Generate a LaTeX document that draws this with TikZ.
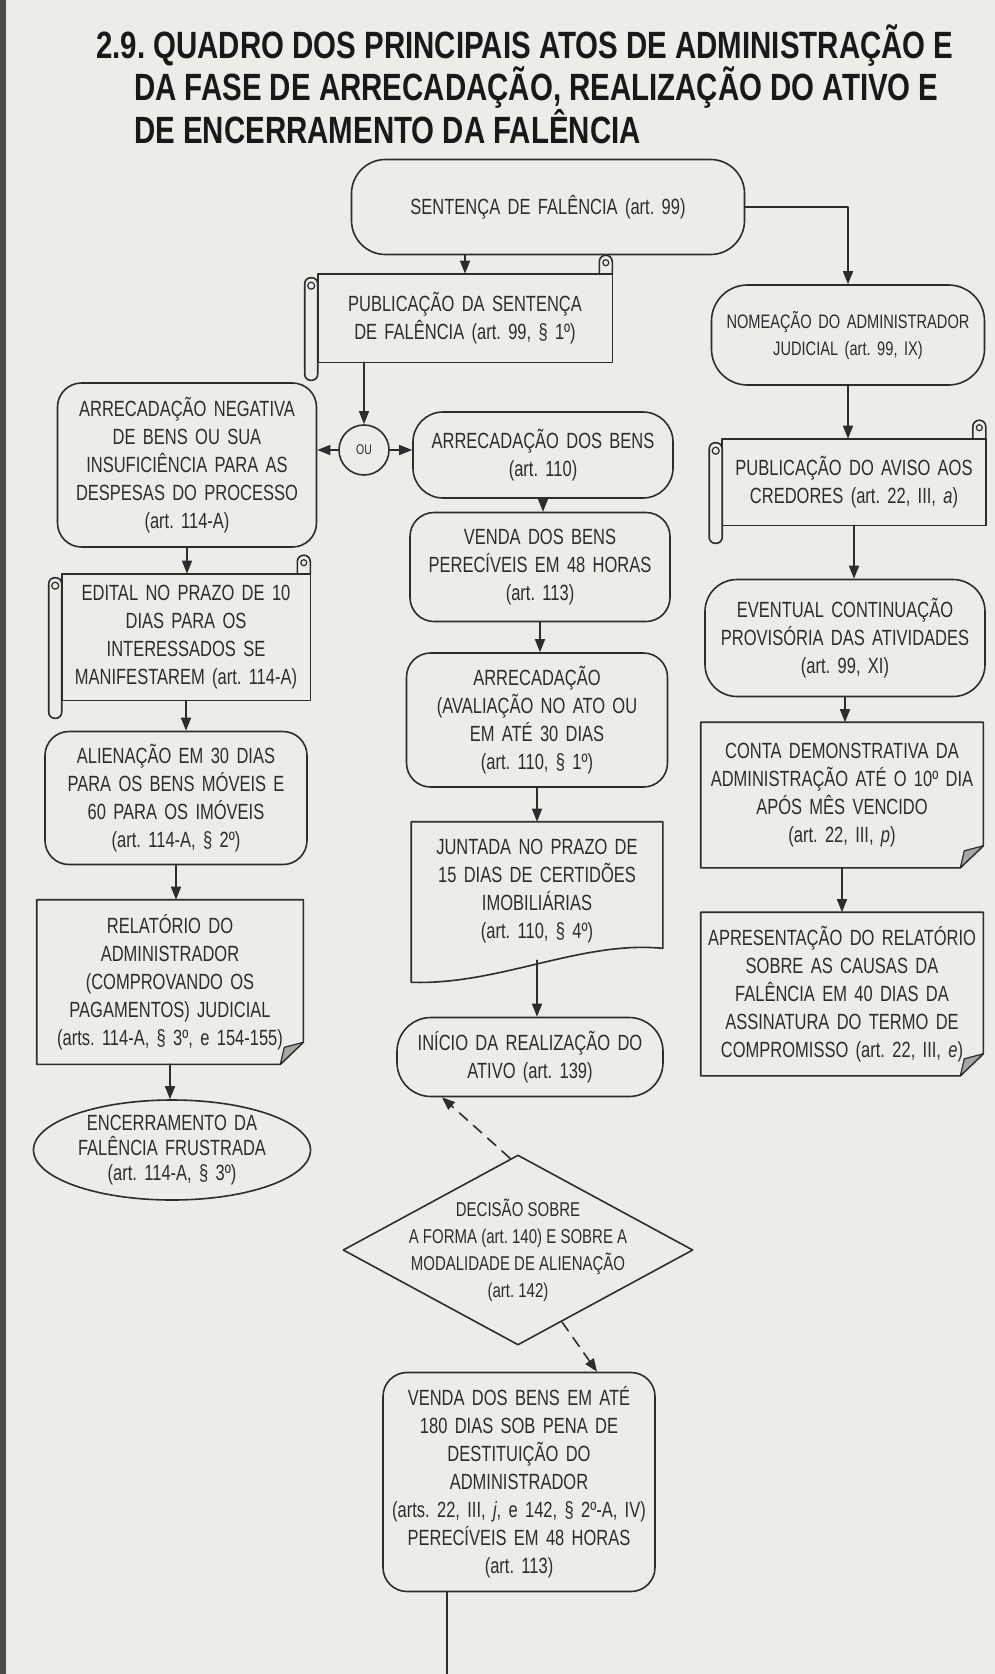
\documentclass[tikz,border=0pt]{standalone}
\usepackage{fontspec}
\setmainfont{Liberation Sans}[FakeStretch=0.75]
\newfontfamily\titulo{Liberation Sans}[FakeStretch=0.775]
\usepackage{tikz}
\usetikzlibrary{arrows.meta}
\usetikzlibrary{shapes.geometric}
\usetikzlibrary{calc}
\definecolor{papel}{RGB}{236,236,233}
\definecolor{tinta}{RGB}{45,45,45}
\frenchspacing

\tikzset{
  caixa/.style={draw=tinta,line width=1.6pt,rounded corners=24pt,align=center,inner sep=0pt,text=tinta,font=\fontsize{22}{28}\selectfont},
  folha/.style={caixa,draw=none},
  tam/.style 2 args={minimum width=#1pt,minimum height=#2pt,text width=#1pt},
  seta/.style={draw=tinta,line width=1.6pt,-{Triangle[length=13pt,width=10pt]}},
  tracejado/.style={seta,dash pattern=on 11pt off 8pt},
}

% folha com canto dobrado
\newcommand{\dobra}[1]{%
  \draw[tinta,line width=1.6pt,line join=round] (#1.north west) -- (#1.north east) -- ($(#1.south east)+(0,-22)$) -- ($(#1.south east)+(-23,0)$) -- (#1.south west) -- cycle;
  \filldraw[draw=tinta,fill=gray!70,line width=1.2pt,line join=round] ($(#1.south east)+(0,-22)$) -- ($(#1.south east)+(-19,-17)$) -- ($(#1.south east)+(-23,0)$) -- cycle;
}
% pergaminho
\newcommand{\rolo}[1]{%
  \draw[tinta,line width=1.6pt] (#1.north west) rectangle (#1.south east);
  \draw[tinta,line width=1.6pt,fill=papel,rounded corners=6pt] ($(#1.north west)+(-13,4)$) rectangle ($(#1.south west)+(0,18)$);
  \draw[tinta,line width=1.2pt] ($(#1.north west)+(-6.5,12)$) circle (3.5pt);
  \draw[tinta,line width=1.6pt] ($(#1.north east)+(-13,0)$) -- ($(#1.north east)+(-13,-12)$) arc[start angle=180,end angle=0,radius=6.5pt] -- (#1.north east);
  \draw[tinta,line width=1.2pt] ($(#1.north east)+(-6.5,-11)$) circle (3pt);
}

\begin{document}
\begin{tikzpicture}[x=1pt,y=-1pt,line cap=round,line join=round]
\useasboundingbox (0,0) rectangle (995,1674);
\fill[papel] (0,0) rectangle (995,1674);
\fill[black!70] (0,0) rectangle (6,1674);

% titulo
\node[anchor=north west,inner sep=0pt,align=left,text=black!90,font=\titulo\bfseries\fontsize{38}{36}\selectfont] (titulo) at (96,24) {2.9. QUADRO DOS PRINCIPAIS ATOS DE ADMINISTRAÇÃO E\\\hspace*{38pt}DA FASE DE ARRECADAÇÃO, REALIZAÇÃO DO ATIVO E\\\hspace*{38pt}DE ENCERRAMENTO DA FALÊNCIA};

% coluna central
\node[caixa,tam={393}{95},rounded corners=34pt] (sent) at (548,207) {SENTENÇA DE FALÊNCIA (art. 99)};
\node[folha,tam={293}{87}] (pub) at (465,318) {PUBLICAÇÃO DA SENTENÇA\\DE FALÊNCIA (art. 99, § 1º)};
\node[circle,draw=tinta,line width=1.6pt,minimum size=50pt,inner sep=0pt,text=tinta,font=\fontsize{14}{14}\selectfont] (ou) at (364,450) {OU};
\node[caixa,tam={260}{86},rounded corners=30pt] (arrec) at (543,455) {ARRECADAÇÃO DOS BENS\\(art. 110)};
\node[caixa,tam={260}{109}] (venda) at (540,567) {VENDA DOS BENS\\PERECÍVEIS EM 48 HORAS\\(art. 113)};
\node[caixa,tam={261}{134}] (aval) at (537,720) {ARRECADAÇÃO\\(AVALIAÇÃO NO ATO OU\\EM ATÉ 30 DIAS\\(art. 110, § 1º)};
\node[folha,tam={250}{137}] (junt) at (537,891) {JUNTADA NO PRAZO DE\\15 DIAS DE CERTIDÕES\\IMOBILIÁRIAS\\(art. 110, § 4º)};
\node[caixa,tam={266}{79},rounded corners=34pt] (inicio) at (530,1057) {INÍCIO DA REALIZAÇÃO DO\\ATIVO (art. 139)};
\node[diamond,draw=tinta,line width=1.6pt,minimum width=350pt,minimum height=190pt,inner sep=0pt] (dec) at (518,1250) {};
\node[align=center,text=tinta,font=\fontsize{20}{27}\selectfont] (dectxt) at (dec.center) {DECISÃO SOBRE\\A FORMA (art. 140) E SOBRE A\\MODALIDADE DE ALIENAÇÃO\\(art. 142)};
\node[caixa,tam={272}{219}] (venda2) at (519,1482) {VENDA DOS BENS EM ATÉ\\180 DIAS SOB PENA DE\\DESTITUIÇÃO DO\\ADMINISTRADOR\\(arts. 22, III, \textit{j}, e 142, § 2º-A, IV)\\PERECÍVEIS EM 48 HORAS\\(art. 113)};
\coordinate (fim) at (447,1674);

% coluna esquerda
\node[caixa,tam={259}{164}] (neg) at (187,465) {ARRECADAÇÃO NEGATIVA\\DE BENS OU SUA\\INSUFICIÊNCIA PARA AS\\DESPESAS DO PROCESSO\\(art. 114-A)};
\node[folha,tam={247}{125}] (edital) at (186,637) {EDITAL NO PRAZO DE 10\\DIAS PARA OS\\INTERESSADOS SE\\MANIFESTAREM (art. 114-A)};
\node[caixa,tam={262}{133}] (alien) at (176,798) {ALIENAÇÃO EM 30 DIAS\\PARA OS BENS MÓVEIS E\\60 PARA OS IMÓVEIS\\(art. 114-A, § 2º)};
\node[folha,tam={265}{163}] (rel) at (170,982) {RELATÓRIO DO\\ADMINISTRADOR\\(COMPROVANDO OS\\PAGAMENTOS) JUDICIAL\\(arts. 114-A, § 3º, e 154-155)};
\node[ellipse,draw=tinta,line width=1.6pt,minimum width=271pt,minimum height=100pt,inner xsep=0pt,inner ysep=-5pt,text width=196pt,align=center,text=tinta,font=\fontsize{22}{25}\selectfont] (enc) at (172,1150) {ENCERRAMENTO DA\\FALÊNCIA FRUSTRADA\\(art. 114-A, § 3º)};

% coluna direita
\node[caixa,tam={273}{100},rounded corners=36pt,font=\fontsize{19.5}{27}\selectfont] (nom) at (848,335) {NOMEAÇÃO DO ADMINISTRADOR\\JUDICIAL (art. 99, IX)};
\node[folha,tam={262}{85}] (aviso) at (854,482) {PUBLICAÇÃO DO AVISO AOS\\CREDORES (art. 22, III, \textit{a})};
\node[caixa,tam={280}{117},rounded corners=32pt] (event) at (845,638) {EVENTUAL CONTINUAÇÃO\\PROVISÓRIA DAS ATIVIDADES\\(art. 99, XI)};
\node[folha,tam={281}{144}] (conta) at (842,795) {CONTA DEMONSTRATIVA DA\\ADMINISTRAÇÃO ATÉ O 10º DIA\\APÓS MÊS VENCIDO\\(art. 22, III, \textit{p})};
\node[folha,tam={281}{162}] (apres) at (842,994) {APRESENTAÇÃO DO RELATÓRIO\\SOBRE AS CAUSAS DA\\FALÊNCIA EM 40 DIAS DA\\ASSINATURA DO TERMO DE\\COMPROMISSO (art. 22, III, \textit{e})};

% contornos
\foreach \n in {pub,edital,aviso} \rolo{\n};
\foreach \n in {rel,conta,apres} \dobra{\n};
\draw[tinta,line width=1.6pt] (junt.north west) -- (junt.north east) -- ($(junt.south east)+(0,-12)$) .. controls ($(junt.south east)+(-82,-20)$) and ($(junt.south west)+(88,25)$) .. ($(junt.south west)+(0,22)$) -- cycle;

% setas
\draw[seta] (sent.east) -| (nom.north);
\draw[seta] (sent.south -| pub.north) -- (pub.north);
\draw[seta] (pub.south -| ou.north) -- (ou.north);
\draw[seta] (ou.west) -- (ou.west -| neg.east);
\draw[seta] (ou.east) -- (ou.east -| arrec.west);
\foreach \a/\b in {neg/edital,edital/alien,alien/rel,rel/enc,arrec/venda,venda/aval,aval/junt,junt/inicio,nom/aviso,aviso/event,event/conta,conta/apres}
  \draw[seta] (\a.south) -- (\a.south |- \b.north);
\draw[tracejado] ([xshift=-8pt,yshift=-4pt]dec.north) -- ([xshift=-88pt]inicio.south);
\draw[tracejado] ($(dec.south)!0.25!(dec.east)$) -- ([xshift=78pt]venda2.north);
\draw[tinta,line width=1.6pt] (fim |- venda2.south) -- (fim);
\end{tikzpicture}
\end{document}
